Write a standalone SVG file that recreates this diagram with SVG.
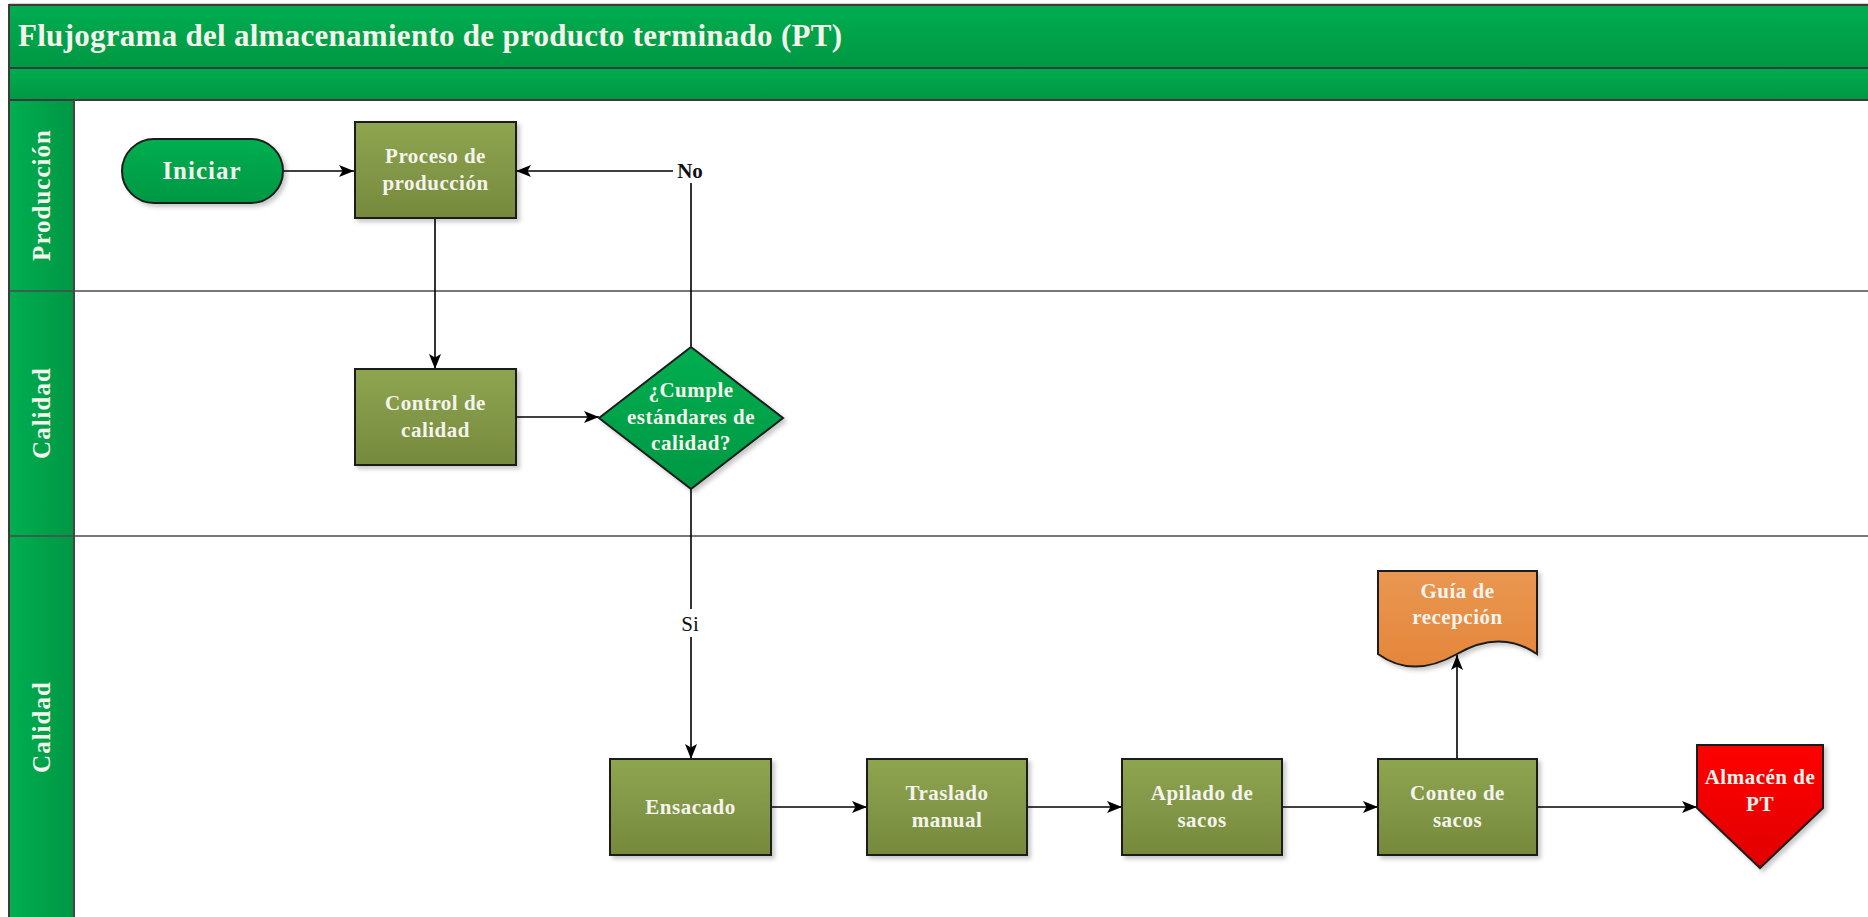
<svg xmlns="http://www.w3.org/2000/svg" width="1868" height="917" viewBox="0 0 1868 917">
  <defs>
    <linearGradient id="gHead" x1="0" y1="0" x2="0" y2="1">
      <stop offset="0" stop-color="#00AD4F"/>
      <stop offset="1" stop-color="#009843"/>
    </linearGradient>
    <linearGradient id="gLane" x1="0" y1="0" x2="1" y2="0">
      <stop offset="0" stop-color="#00AE50"/>
      <stop offset="1" stop-color="#009744"/>
    </linearGradient>
    <linearGradient id="gOlive" x1="0" y1="0" x2="0" y2="1">
      <stop offset="0" stop-color="#8EA550"/>
      <stop offset="1" stop-color="#76893D"/>
    </linearGradient>
    <linearGradient id="gGreen" x1="0" y1="0" x2="0" y2="1">
      <stop offset="0" stop-color="#00AE50"/>
      <stop offset="1" stop-color="#009843"/>
    </linearGradient>
    <linearGradient id="gOrange" x1="0" y1="0" x2="0" y2="1">
      <stop offset="0" stop-color="#E99752"/>
      <stop offset="1" stop-color="#E4863A"/>
    </linearGradient>
    <linearGradient id="gRed" x1="0" y1="0" x2="0" y2="1">
      <stop offset="0" stop-color="#FF0000"/>
      <stop offset="1" stop-color="#E00000"/>
    </linearGradient>
    <filter id="shadow" x="-10%" y="-10%" width="130%" height="130%">
      <feDropShadow dx="3" dy="3" stdDeviation="2" flood-color="#000" flood-opacity="0.22"/>
    </filter>
    <marker id="arrow" viewBox="0 0 15 12" refX="15" refY="6" markerWidth="15" markerHeight="12" markerUnits="userSpaceOnUse" orient="auto">
      <path d="M0,0 L15,6 L0,12 L3.5,6 Z" fill="#000"/>
    </marker>
    <style>
      .lbl { font-family: "Liberation Serif", "Times New Roman", serif; font-weight: bold; fill: #F4F4EC; text-anchor: middle; font-size: 21px; letter-spacing: 0.5px; }
      .lane { font-family: "Liberation Serif", "Times New Roman", serif; font-weight: bold; fill: #F4F4EC; text-anchor: middle; font-size: 25px; letter-spacing: 1px; }
      .box { stroke: #1E1E1E; stroke-width: 2; filter: url(#shadow); }
      .conn { fill: none; stroke: #000; stroke-width: 1.6; }
      .arr { marker-end: url(#arrow); }
      .grid { stroke: #4A4A4A; stroke-width: 1.5; fill: none; }
      .clab { font-family: "Liberation Serif", "Times New Roman", serif; font-size: 21px; fill: #111; text-anchor: middle; }
    </style>
  </defs>

  <rect x="0" y="0" width="1868" height="917" fill="#FFFFFF"/>

  <!-- Header -->
  <g id="header">
    <line x1="9" y1="4" x2="1868" y2="4" stroke="#A8A8A8" stroke-width="1"/>
    <rect x="9" y="5" width="1870" height="63" fill="url(#gHead)" stroke="#3A3A3A" stroke-width="2"/>
    <rect x="9" y="68" width="1870" height="32" fill="url(#gHead)" stroke="#3A3A3A" stroke-width="2"/>
    <text x="18" y="46" font-family="'Liberation Serif', 'Times New Roman', serif" font-weight="bold" font-size="31" fill="#F4F4EC" textLength="824" lengthAdjust="spacing">Flujograma del almacenamiento de producto terminado (PT)</text>
  </g>

  <!-- Swimlanes -->
  <g id="lanes">
    <rect x="9" y="100" width="65" height="820" fill="url(#gLane)" stroke="#3A3A3A" stroke-width="2"/>
    <line class="grid" x1="9" y1="291" x2="1868" y2="291"/>
    <line class="grid" x1="9" y1="536" x2="1868" y2="536"/>
    <line class="grid" x1="74" y1="100" x2="74" y2="917"/>
    <text class="lane" transform="translate(50,195) rotate(-90)">Producción</text>
    <text class="lane" transform="translate(50,413) rotate(-90)">Calidad</text>
    <text class="lane" transform="translate(50,727) rotate(-90)">Calidad</text>
  </g>

  <!-- Connectors -->
  <g id="connectors">
    <path class="conn arr" d="M283,171 H354"/>
    <path class="conn arr" d="M435,218 V369"/>
    <path class="conn arr" d="M516,417 H599"/>
    <path class="conn arr" d="M691,347 V171 H516"/>
    <path class="conn arr" d="M691,489 V759"/>
    <path class="conn arr" d="M771,807 H867"/>
    <path class="conn arr" d="M1027,807 H1122"/>
    <path class="conn arr" d="M1282,807 H1378"/>
    <path class="conn arr" d="M1537,807 H1697"/>
    <path class="conn arr" d="M1457,759 V655"/>
    <rect x="673" y="157" width="34" height="26" fill="#FFFFFF"/>
    <text x="690" y="178" class="clab" font-weight="bold">No</text>
    <rect x="678" y="609" width="26" height="28" fill="#FFFFFF"/>
    <text x="690" y="631" class="clab">Si</text>
  </g>

  <!-- Nodes -->
  <g id="n-iniciar">
    <rect class="box" x="122" y="139" width="161" height="64" rx="32" ry="32" fill="url(#gGreen)"/>
    <text class="lbl" x="202" y="179" style="font-size:25px;letter-spacing:1px">Iniciar</text>
  </g>

  <g id="n-proceso">
    <rect class="box" x="355" y="122" width="161" height="96" fill="url(#gOlive)"/>
    <text class="lbl" x="435.5" y="163">Proceso de</text>
    <text class="lbl" x="435.5" y="190">producción</text>
  </g>

  <g id="n-control">
    <rect class="box" x="355" y="369" width="161" height="96" fill="url(#gOlive)"/>
    <text class="lbl" x="435.5" y="410">Control de</text>
    <text class="lbl" x="435.5" y="437">calidad</text>
  </g>

  <g id="n-decision">
    <polygon class="box" points="691,347 783,418 691,489 599,418" fill="url(#gGreen)"/>
    <text class="lbl" x="691" y="397">¿Cumple</text>
    <text class="lbl" x="691" y="424">estándares de</text>
    <text class="lbl" x="691" y="450">calidad?</text>
  </g>

  <g id="n-ensacado">
    <rect class="box" x="610" y="759" width="161" height="96" fill="url(#gOlive)"/>
    <text class="lbl" x="690.5" y="814">Ensacado</text>
  </g>

  <g id="n-traslado">
    <rect class="box" x="867" y="759" width="160" height="96" fill="url(#gOlive)"/>
    <text class="lbl" x="947" y="800">Traslado</text>
    <text class="lbl" x="947" y="827">manual</text>
  </g>

  <g id="n-apilado">
    <rect class="box" x="1122" y="759" width="160" height="96" fill="url(#gOlive)"/>
    <text class="lbl" x="1202" y="800">Apilado de</text>
    <text class="lbl" x="1202" y="827">sacos</text>
  </g>

  <g id="n-conteo">
    <rect class="box" x="1378" y="759" width="159" height="96" fill="url(#gOlive)"/>
    <text class="lbl" x="1457.5" y="800">Conteo de</text>
    <text class="lbl" x="1457.5" y="827">sacos</text>
  </g>

  <g id="n-guia">
    <path class="box" d="M1378,571 H1537 V654 C1515,639 1488,636 1457,654 C1427,671 1400,670 1378,654 Z" fill="url(#gOrange)"/>
    <text class="lbl" x="1457.5" y="598">Guía de</text>
    <text class="lbl" x="1457.5" y="624">recepción</text>
  </g>

  <g id="n-almacen">
    <polygon class="box" points="1697,745 1823,745 1823,808 1760,868 1697,808" fill="url(#gRed)"/>
    <text class="lbl" x="1760" y="784">Almacén de</text>
    <text class="lbl" x="1760" y="811">PT</text>
  </g>
</svg>
